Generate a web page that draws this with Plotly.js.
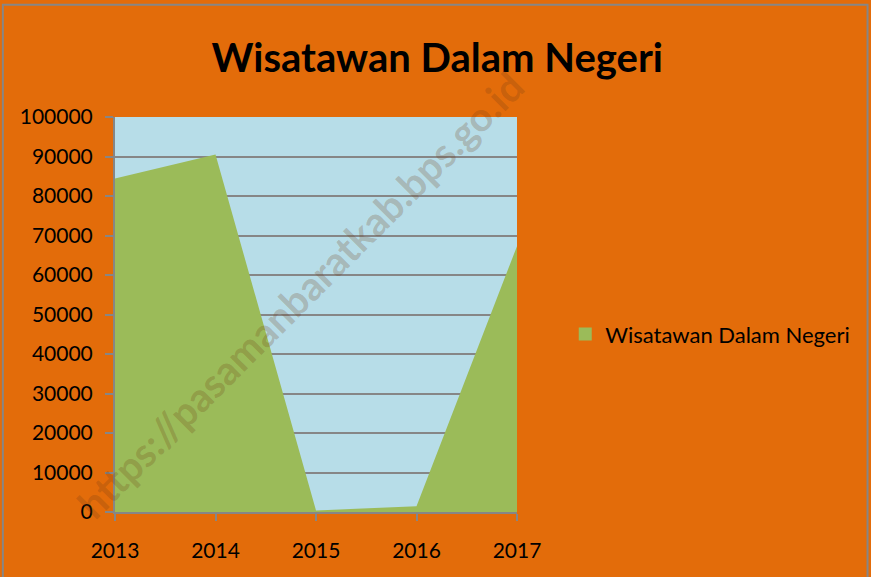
<!DOCTYPE html>
<html><head><meta charset="utf-8">
<script src="https://cdn.plot.ly/plotly-3.0.1.min.js"></script>
<style>html,body{margin:0;padding:0;background:#E36C0A;}</style>
</head><body>
<div id="chart" style="width:871px;height:577px;"></div>
<script>
const years = [2013, 2014, 2015, 2016, 2017];
const wisatawan = [84400, 90500, 400, 1450, 67300];
const seriesName = 'Wisatawan Dalam Negeri';
const yTicks = [0,10000,20000,30000,40000,50000,60000,70000,80000,90000,100000];
const yTickText = yTicks.map(String);

const font = 'Lato, "Noto Sans", sans-serif';
const green = '#9BBB59';

Plotly.newPlot('chart', [{
  x: years, y: wisatawan, type: 'scatter', mode: 'none',
  fill: 'tozeroy', fillcolor: green, name: seriesName, showlegend: false
}, {
  x: [null], y: [null], type: 'scatter', mode: 'markers', name: seriesName,
  marker: {symbol: 'square', size: 13, color: green}, showlegend: true
}], {
  width: 871, height: 577,
  paper_bgcolor: '#E36C0A', plot_bgcolor: '#B7DDE8',
  margin: {l: 115, r: 354, t: 117, b: 65},
  font: {family: font, color: '#000'},
  title: {text: '<b>Wisatawan Dalam Negeri</b>', x: 0.502, xanchor: 'center', y: 0.9, yanchor: 'middle',
          font: {size: 40, family: font, color: '#000'}},
  xaxis: {range: [2013, 2017], tickvals: years, ticktext: years.map(String), ticks: 'outside',
          ticklen: 7, tickcolor: '#868686', tickwidth: 2, showline: true, linecolor: '#868686', linewidth: 2,
          showgrid: false, zeroline: false, tickfont: {size: 21}, ticklabelstandoff: 12},
  yaxis: {range: [0, 100000], tickvals: yTicks, ticktext: yTickText, ticks: 'outside', ticklen: 8,
          tickcolor: '#868686', tickwidth: 2,
          showline: true, linecolor: '#868686', linewidth: 2, gridcolor: '#868686', gridwidth: 2,
          zeroline: false, tickfont: {size: 21}, ticklabelstandoff: 8},
  showlegend: true,
  legend: {x: 1.12, xanchor: 'left', y: 0.45, yanchor: 'middle', font: {size: 22},
           bgcolor: 'rgba(0,0,0,0)', itemwidth: 30},
  annotations: [{
    text: '<b>https://pasamanbaratkab.bps.go.id</b>', xref: 'paper', yref: 'paper',
    x: 0.5, y: 0.5, showarrow: false, textangle: -45,
    font: {size: 40, family: 'Lato, sans-serif', color: 'rgba(110,60,20,0.24)'},
    xshift: -16, yshift: 20
  }],
  shapes: [{type: 'rect', xref: 'paper', yref: 'paper', x0: -0.279, x1: 1.872, y0: -0.2, y1: 1.284,
            line: {color: '#868686', width: 2}, fillcolor: 'rgba(0,0,0,0)'}]
}, {displayModeBar: false, staticPlot: true});
</script>
</body></html>
